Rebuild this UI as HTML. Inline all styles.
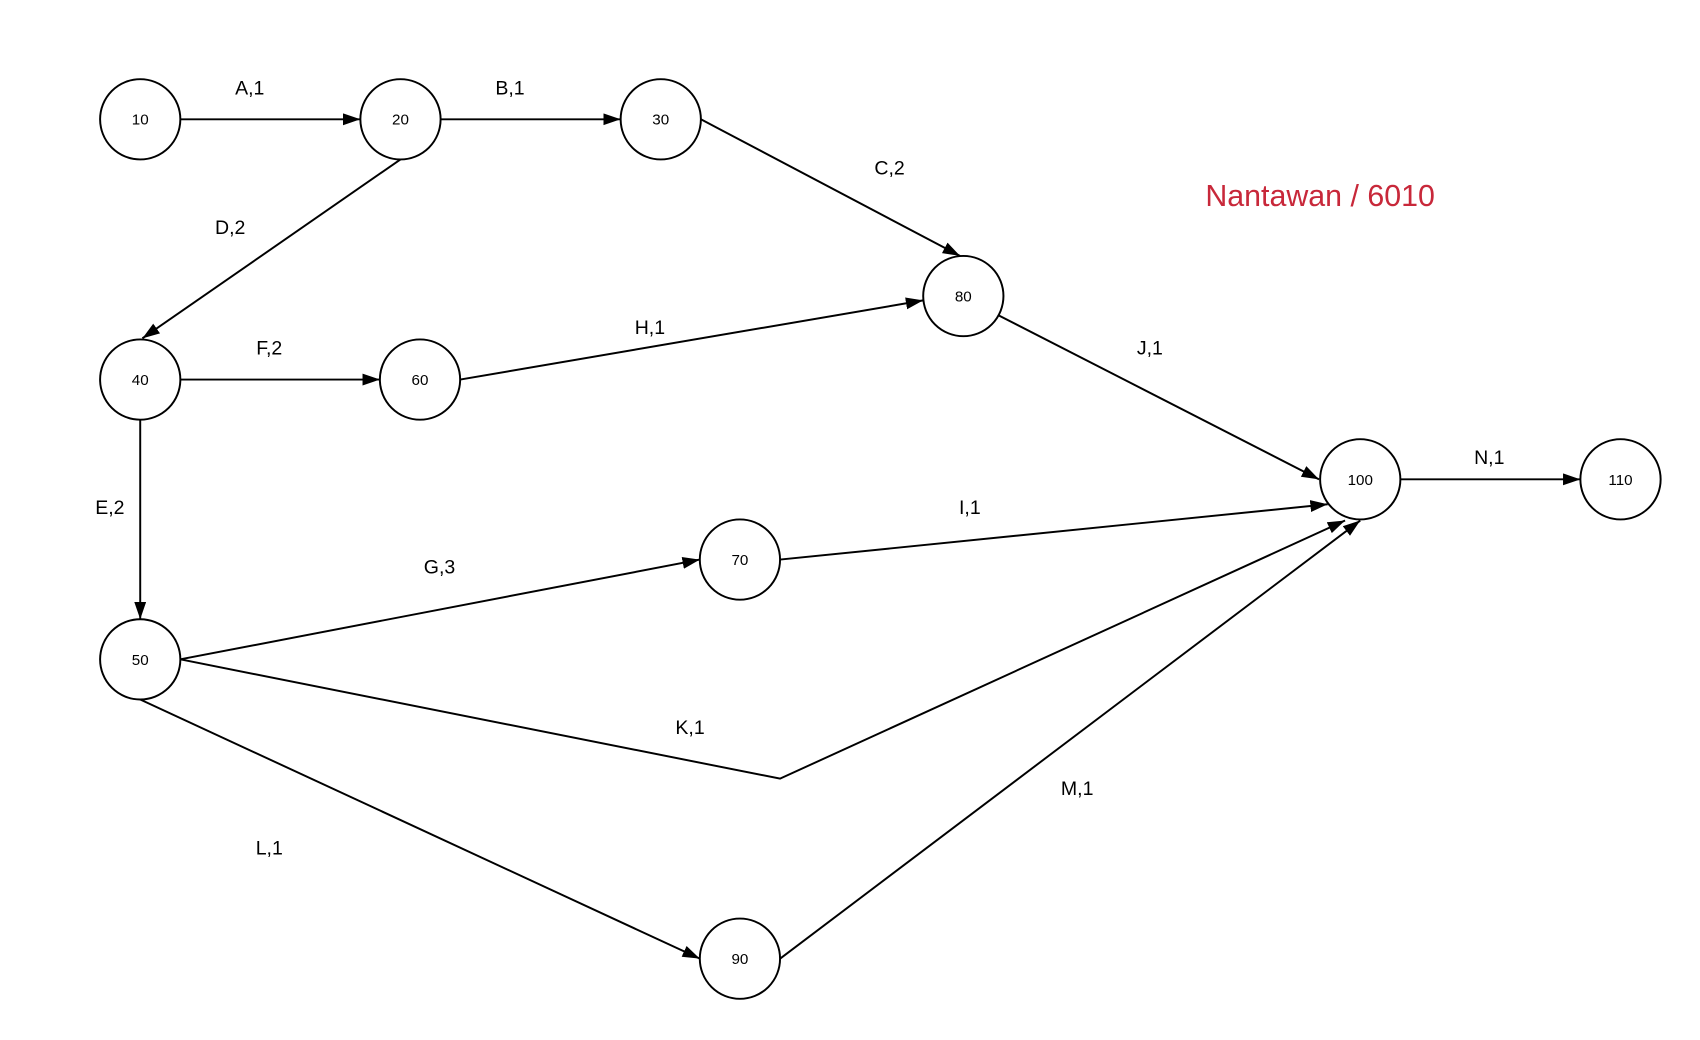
<!DOCTYPE html>
<html><head><meta charset="utf-8"><style>
html,body{margin:0;padding:0;background:#fff;}
svg{display:block;}
text{font-family:"Liberation Sans",sans-serif;fill:#000;}
</style></head><body>
<svg width="1700" height="1040" viewBox="0 0 1567 959" xmlns="http://www.w3.org/2000/svg">
<defs>
<marker id="a" markerUnits="userSpaceOnUse" markerWidth="18" markerHeight="12" refX="16" refY="5.5" orient="auto">
<path d="M0,0 L16,5.5 L0,11 Z" fill="#000"/>
</marker>
</defs>
<g stroke="#000" stroke-width="1.8" fill="none">
<line x1="166" y1="110" x2="332" y2="110" marker-end="url(#a)"/>
<line x1="406" y1="110" x2="572" y2="110" marker-end="url(#a)"/>
<line x1="646" y1="110" x2="885" y2="236" marker-end="url(#a)"/>
<line x1="369" y1="147" x2="131" y2="312" marker-end="url(#a)"/>
<line x1="166" y1="350" x2="350" y2="350" marker-end="url(#a)"/>
<line x1="424" y1="350" x2="851" y2="277" marker-end="url(#a)"/>
<line x1="921" y1="291" x2="1216" y2="442" marker-end="url(#a)"/>
<line x1="1291" y1="442" x2="1457" y2="442" marker-end="url(#a)"/>
<line x1="719" y1="516" x2="1224" y2="465" marker-end="url(#a)"/>
<line x1="166" y1="608" x2="645" y2="516" marker-end="url(#a)"/>
<polyline points="166,608 719,718 1240,480" marker-end="url(#a)"/>
<line x1="129" y1="645" x2="645" y2="884" marker-end="url(#a)"/>
<line x1="719" y1="884" x2="1254" y2="480" marker-end="url(#a)"/>
<line x1="129" y1="387" x2="129" y2="571" marker-end="url(#a)"/>
</g>
<g stroke="#000" stroke-width="1.8" fill="#fff">
<circle cx="129" cy="110" r="37"/>
<circle cx="369" cy="110" r="37"/>
<circle cx="609" cy="110" r="37"/>
<circle cx="888" cy="273" r="37"/>
<circle cx="129" cy="350" r="37"/>
<circle cx="387" cy="350" r="37"/>
<circle cx="1254" cy="442" r="37"/>
<circle cx="1494" cy="442" r="37"/>
<circle cx="682" cy="516" r="37"/>
<circle cx="129" cy="608" r="37"/>
<circle cx="682" cy="884" r="37"/>
</g>
<g font-size="14" text-anchor="middle">
<text x="129" y="115">10</text>
<text x="369" y="115">20</text>
<text x="609" y="115">30</text>
<text x="888" y="278">80</text>
<text x="129" y="355">40</text>
<text x="387" y="355">60</text>
<text x="1254" y="447">100</text>
<text x="1494" y="447">110</text>
<text x="682" y="521">70</text>
<text x="129" y="613">50</text>
<text x="682" y="889">90</text>
</g>
<g font-size="18" text-anchor="middle">
<text x="230" y="87">A,1</text>
<text x="470" y="87">B,1</text>
<text x="820" y="161">C,2</text>
<text x="212" y="216">D,2</text>
<text x="248" y="327">F,2</text>
<text x="599" y="308">H,1</text>
<text x="1060" y="327">J,1</text>
<text x="101" y="474">E,2</text>
<text x="894" y="474">I,1</text>
<text x="405" y="529">G,3</text>
<text x="636" y="677">K,1</text>
<text x="248" y="788">L,1</text>
<text x="993" y="733">M,1</text>
<text x="1373" y="428">N,1</text>
</g>
<text x="1217" y="190" font-size="28" text-anchor="middle" style="fill:#c8283a">Nantawan / 6010</text>
</svg>
</body></html>
